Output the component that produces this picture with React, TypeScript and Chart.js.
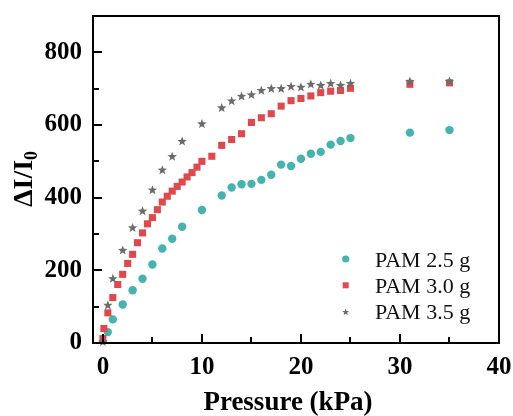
import React, { useEffect, useRef, useState } from "react";
import { Chart, registerables } from "chart.js";

Chart.register(...registerables);

const xTicks = [0, 10, 20, 30, 40];
const xMinorTicks = [5, 15, 25, 35];
const yTicks = [0, 200, 400, 600, 800];
const yMinorTicks = [100, 300, 500, 700];

const seriesNames = ["PAM 2.5 g", "PAM 3.0 g", "PAM 3.5 g"];

const pam25X = [0, 0.5, 1, 2, 3, 4, 5, 6, 7, 8, 10, 12, 13, 14, 15, 16, 17, 18, 19, 20, 21, 22, 23, 24, 25, 31, 35];
const pam25Y = [0, 30, 65, 106, 145, 177, 216, 260, 287, 320, 366, 406, 428, 437, 438, 449, 463, 491, 487, 507, 521, 526, 546, 556, 564, 579, 586];

const pam30X = [0, 0.1, 0.5, 1, 1.5, 2, 2.5, 3, 3.5, 4, 4.5, 5, 5.5, 6, 6.5, 7, 7.5, 8, 8.5, 9, 9.5, 10, 11, 12, 13, 14, 15, 16, 17, 18, 19, 20, 21, 22, 23, 24, 25, 31, 35];
const pam30Y = [12, 40, 83, 125, 161, 189, 219, 244, 276, 303, 328, 345, 367, 388, 404, 418, 431, 443, 457, 469, 484, 500, 514, 544, 560, 576, 607, 620, 631, 652, 667, 673, 680, 689, 693, 695, 701, 712, 716];

const pam35X = [0, 0.5, 1, 2, 3, 4, 5, 6, 7, 8, 10, 12, 13, 14, 15, 16, 17, 18, 19, 20, 21, 22, 23, 24, 25, 31, 35];
const pam35Y = [4, 105, 178, 256, 318, 364, 422, 477, 514, 556, 604, 648, 667, 680, 684, 696, 701, 701, 707, 705, 713, 710, 715, 710, 715, 721, 721];

const CYAN = "#45b3ae";
const RED = "#e2474b";
const GRAY = "#6b6b6b";

function starPath(ctx: CanvasRenderingContext2D, cx: number, cy: number, R: number, r: number) {
  ctx.beginPath();
  for (let i = 0; i < 10; i++) {
    const a = -Math.PI / 2 + (i * Math.PI) / 5;
    const rad = i % 2 === 0 ? R : r;
    const px = cx + rad * Math.cos(a);
    const py = cy + rad * Math.sin(a);
    if (i === 0) ctx.moveTo(px, py);
    else ctx.lineTo(px, py);
  }
  ctx.closePath();
}

const toPts = (xs: number[], ys: number[]) => xs.map((x, i) => ({ x, y: ys[i] }));

const starPlugin = {
  id: "starPoints",
  afterDatasetsDraw(chart: any) {
    const ctx: CanvasRenderingContext2D = chart.ctx;
    const meta = chart.getDatasetMeta(2);
    ctx.save();
    ctx.fillStyle = GRAY;
    for (const el of meta.data) {
      starPath(ctx, el.x, el.y + 0.5, 5, 2.1);
      ctx.fill();
    }
    ctx.restore();
  },
};

const decorPlugin = {
  id: "decor",
  afterDraw(chart: any) {
    const ctx: CanvasRenderingContext2D = chart.ctx;
    const xs = chart.scales.x;
    const ys = chart.scales.y;
    const left = Math.round(Number(xs.left));
    const bottom = Math.round(Number(ys.bottom));
    ctx.save();
    ctx.fillStyle = "#000";
    for (const v of xTicks) {
      const p = Math.round(xs.getPixelForValue(v));
      ctx.fillRect(p - 1, bottom - 9, 2, 9);
    }
    for (const v of xMinorTicks) {
      const p = Math.round(xs.getPixelForValue(v));
      ctx.fillRect(p - 1, bottom - 6, 2, 6);
    }
    for (const v of yTicks) {
      const p = Math.round(ys.getPixelForValue(v));
      ctx.fillRect(left, p - 1, 9, 2);
    }
    for (const v of yMinorTicks) {
      const p = Math.round(ys.getPixelForValue(v));
      ctx.fillRect(left, p - 1, 6, 2);
    }

    // x title
    ctx.font = "bold 27px 'Liberation Serif'";
    ctx.textAlign = "center";
    ctx.textBaseline = "alphabetic";
    ctx.fillText("Pressure (kPa)", 288, 410);

    // y title
    ctx.save();
    ctx.translate(32, 179);
    ctx.rotate(-Math.PI / 2);
    ctx.textAlign = "left";
    ctx.font = "bold 28px 'Liberation Serif'";
    const main = "ΔI/I";
    const w = ctx.measureText(main).width;
    ctx.font = "bold 18px 'Liberation Serif'";
    const ws = ctx.measureText("0").width;
    const start = -(w + ws) / 2;
    ctx.font = "bold 28px 'Liberation Serif'";
    ctx.fillText(main, start, 0);
    ctx.font = "bold 18px 'Liberation Serif'";
    ctx.fillText("0", start + w, 5);
    ctx.restore();

    // legend
    const rowsY = [259, 285.3, 311.7];
    const mx = 345.7;
    ctx.font = "22px 'Liberation Serif'";
    ctx.textAlign = "left";
    ctx.textBaseline = "alphabetic";
    rowsY.forEach((cy, i) => {
      if (i === 0) {
        ctx.fillStyle = CYAN;
        ctx.beginPath();
        ctx.arc(mx, cy, 3.6, 0, Math.PI * 2);
        ctx.fill();
      } else if (i === 1) {
        ctx.fillStyle = RED;
        ctx.fillRect(mx - 3, cy - 3, 6, 6);
      } else {
        ctx.fillStyle = GRAY;
        starPath(ctx, mx, cy + 0.5, 3.6, 1.5);
        ctx.fill();
      }
      ctx.fillStyle = "#111";
      ctx.fillText(seriesNames[i], 375, cy + 7.5);
    });
    ctx.restore();
  },
};

const tickFont = { family: "'Liberation Serif'", size: 25, weight: "bold" as const };
const frameBorder = { display: true, width: 2, color: "#000" };

type Geo = {
  left: number;
  right: number;
  top: number;
  bottom: number;
  xt: { p: number; len: number }[];
  yt: { p: number; len: number }[];
};

export default function App() {
  const ref = useRef<HTMLCanvasElement>(null);
  const [geo, setGeo] = useState<Geo | null>(null);
  useEffect(() => {
    if (!ref.current) return;
    const chart = new Chart(ref.current, {
      type: "scatter",
      data: {
        datasets: [
          {
            label: seriesNames[0],
            data: toPts(pam25X, pam25Y),
            pointStyle: "circle",
            pointRadius: 4.2,
            backgroundColor: CYAN,
            borderWidth: 0,
            order: 3,
          },
          {
            label: seriesNames[1],
            data: toPts(pam30X, pam30Y),
            pointStyle: "rect",
            pointRadius: 5,
            backgroundColor: RED,
            borderWidth: 0,
            order: 2,
          },
          {
            label: seriesNames[2],
            data: toPts(pam35X, pam35Y),
            pointRadius: 0,
            backgroundColor: GRAY,
            borderWidth: 0,
            order: 1,
          },
        ],
      },
      options: {
        animation: false,
        responsive: false,
        devicePixelRatio: 1,
        layout: { padding: { left: 0, top: 16, right: 14, bottom: 0 } },
        plugins: { legend: { display: false }, tooltip: { enabled: false } },
        scales: {
          x: {
            type: "linear",
            position: "bottom",
            min: -1,
            max: 40,
            grid: { display: false, drawTicks: false },
            border: frameBorder,
            afterFit: (s: any) => {
              s.height = 73;
              s.paddingLeft = 0;
              s.paddingRight = 0;
            },
            afterBuildTicks: (s: any) => {
              s.ticks = xTicks.map((v) => ({ value: v }));
            },
            ticks: { color: "#000", padding: 10, maxRotation: 0, font: tickFont },
          },
          x2: {
            type: "linear",
            position: "top",
            min: -1,
            max: 40,
            grid: { display: false, drawTicks: false },
            border: frameBorder,
            ticks: { display: false },
            afterFit: (s: any) => {
              s.height = 0;
              s.paddingLeft = 0;
              s.paddingRight = 0;
            },
          },
          y: {
            type: "linear",
            position: "left",
            min: 0,
            max: 900,
            grid: { display: false, drawTicks: false },
            border: frameBorder,
            afterFit: (s: any) => {
              s.width = 93;
              s.paddingTop = 0;
              s.paddingBottom = 0;
            },
            afterBuildTicks: (s: any) => {
              s.ticks = yTicks.map((v) => ({ value: v }));
            },
            ticks: { color: "#000", padding: 11, font: tickFont },
          },
          y2: {
            type: "linear",
            position: "right",
            min: 0,
            max: 900,
            grid: { display: false, drawTicks: false },
            border: frameBorder,
            ticks: { display: false },
            afterFit: (s: any) => {
              s.width = 0;
              s.paddingTop = 0;
              s.paddingBottom = 0;
            },
          },
        },
      },
      plugins: [starPlugin, decorPlugin],
    });
    const xs: any = chart.scales.x;
    const ys: any = chart.scales.y;
    const ca = chart.chartArea;
    setGeo({
      left: Math.round(ca.left),
      right: Math.round(ca.right),
      top: Math.round(ca.top),
      bottom: Math.round(ca.bottom),
      xt: [
        ...xTicks.map((v) => ({ p: Math.round(xs.getPixelForValue(v)), len: 9 })),
        ...xMinorTicks.map((v) => ({ p: Math.round(xs.getPixelForValue(v)), len: 6 })),
      ],
      yt: [
        ...yTicks.map((v) => ({ p: Math.round(ys.getPixelForValue(v)), len: 9 })),
        ...yMinorTicks.map((v) => ({ p: Math.round(ys.getPixelForValue(v)), len: 6 })),
      ],
    });
    return () => chart.destroy();
  }, []);
  return (
    <div style={{ position: "fixed", left: 0, top: 0, width: 513, height: 416, background: "#fff" }}>
      <canvas ref={ref} width={513} height={416} style={{ position: "absolute", left: 0, top: 0 }} />
      {geo && (
        <div style={{ position: "absolute", left: 0, top: 0, width: 513, height: 416, pointerEvents: "none" }}>
          <div
            style={{
              position: "absolute",
              left: geo.left - 1,
              top: geo.top - 1,
              width: geo.right - geo.left + 2,
              height: geo.bottom - geo.top + 2,
              border: "2px solid #000",
              boxSizing: "border-box",
            }}
          />
          {geo.xt.map((t, i) => (
            <div
              key={"x" + i}
              style={{ position: "absolute", left: t.p - 1, top: geo.bottom - t.len, width: 2, height: t.len, background: "#000" }}
            />
          ))}
          {geo.yt.map((t, i) => (
            <div
              key={"y" + i}
              style={{ position: "absolute", left: geo.left, top: t.p - 1, width: t.len, height: 2, background: "#000" }}
            />
          ))}
        </div>
      )}
    </div>
  );
}
